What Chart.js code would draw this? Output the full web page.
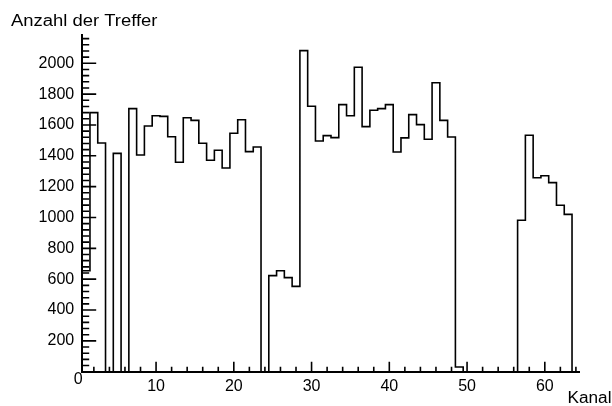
<!DOCTYPE html>
<html><head><meta charset="utf-8">
<script src="https://cdn.jsdelivr.net/npm/chart.js@4/dist/chart.umd.min.js"></script>
<style>html,body{margin:0;padding:0;background:#fff;overflow:hidden}canvas{display:block}</style>
</head><body>
<canvas id="c" width="612" height="406"></canvas>
<script>
// ---- data ----
const binCenters = [1,2,3,4,5,6,7,8,9,10,11,12,13,14,15,16,17,18,19,20,21,22,23,24,25,26,27,28,29,30,31,32,
                    33,34,35,36,37,38,39,40,41,42,43,44,45,46,47,48,49,50,51,52,53,54,55,56,57,58,59,60,61,62,63,64];
const counts = [655,1680,1483,0,1416,0,1706,1405,1593,1660,1656,1524,1358,1647,1630,1481,
                1371,1436,1321,1546,1634,1427,1457,0,623,655,610,553,2082,1721,1496,1531,
                1518,1732,1660,1974,1589,1695,1706,1732,1425,1516,1667,1602,1507,1874,1630,1522,
                30,0,0,0,0,0,0,0,982,1533,1258,1271,1226,1079,1020,0];
const binWidth = 1;
const xTickValues = [10,20,30,40,50,60];
const xTickLabels = ['10','20','30','40','50','60'];
const yTickValues = [0,200,400,600,800,1000,1200,1400,1600,1800,2000];
const yTickLabels = ['0','200','400','600','800','1000','1200','1400','1600','1800','2000'];
const xAxisTitle = 'Kanal';
const yAxisTitle = 'Anzahl der Treffer';
const xMin = 0.5, xMax = 64.5, yMin = 0, yMax = 2186;

// ---- histogram outline points (bin low edges, step) ----
const outline = [{x: binCenters[0] - binWidth/2, y: 0}];
binCenters.forEach((c, i) => outline.push({x: c - binWidth/2, y: counts[i]}));
outline.push({x: binCenters[binCenters.length-1] + binWidth/2, y: 0});

const FONT = '"Liberation Sans", Arial, Helvetica, sans-serif';

const bgPlugin = {
  id: 'bg',
  beforeDraw(chart) {
    const ctx = chart.ctx;
    ctx.save(); ctx.fillStyle = '#fff'; ctx.fillRect(0, 0, chart.width, chart.height); ctx.restore();
  }
};

const decorPlugin = {
  id: 'decor',
  afterDraw(chart) {
    const ctx = chart.ctx, xs = chart.scales.x, ys = chart.scales.y;
    const ax = chart.chartArea.left, ay = chart.chartArea.bottom;
    ctx.save();
    ctx.strokeStyle = '#000'; ctx.lineWidth = 1.6;
    ctx.beginPath();
    for (let v = 0; v <= yMax; v += 40) {
      const py = ys.getPixelForValue(v);
      const len = (v % 200 === 0) ? 14 : 7;
      ctx.moveTo(ax, py); ctx.lineTo(ax + len, py);
    }
    for (let v = 2; v <= xMax; v += 2) {
      const px = xs.getPixelForValue(v);
      const len = (v % 10 === 0) ? 10 : 5;
      ctx.moveTo(px, ay); ctx.lineTo(px, ay - len);
    }
    ctx.stroke();
    ctx.fillStyle = '#000';
    ctx.font = '16px ' + FONT;
    ctx.textAlign = 'center'; ctx.textBaseline = 'middle';
    ctx.fillText(yTickLabels[0], xs.getPixelForValue(0), ys.getPixelForValue(0) + 8);
    // axis titles
    ctx.textBaseline = 'alphabetic';
    ctx.textAlign = 'left';
    let w = ctx.measureText(yAxisTitle).width;
    ctx.save(); ctx.translate(11, 25.5); ctx.scale(146.5 / w, 1); ctx.fillText(yAxisTitle, 0, 0); ctx.restore();
    ctx.textAlign = 'right';
    w = ctx.measureText(xAxisTitle).width;
    ctx.save(); ctx.translate(611.5, 403.3); ctx.scale(44 / w, 1); ctx.fillText(xAxisTitle, 0, 0); ctx.restore();
    ctx.restore();
  }
};

new Chart(document.getElementById('c'), {
  type: 'line',
  data: {
    datasets: [{
      data: outline,
      stepped: 'before',
      borderColor: '#000',
      borderWidth: 1.6,
      pointRadius: 0,
      fill: false,
      tension: 0
    }]
  },
  options: {
    responsive: false,
    devicePixelRatio: 1,
    animation: false,
    parsing: false,
    layout: { padding: { left: 0, top: 34.6, right: 32.2, bottom: 0 } },
    plugins: { legend: { display: false }, tooltip: { enabled: false } },
    scales: {
      x: {
        type: 'linear', min: xMin, max: xMax,
        grid: { display: false, drawTicks: false },
        border: { display: true, color: '#000', width: 2 },
        afterBuildTicks: s => { s.ticks = xTickValues.map(v => ({ value: v })); },
        afterFit: s => { s.height = 406 - 371.7; },
        ticks: {
          color: '#000', font: { family: FONT, size: 16 }, padding: 5, maxRotation: 0, autoSkip: false,
          callback: (v) => xTickLabels[xTickValues.indexOf(v)]
        }
      },
      y: {
        type: 'linear', min: yMin, max: yMax,
        grid: { display: false, drawTicks: false },
        border: { display: true, color: '#000', width: 2 },
        afterBuildTicks: s => { s.ticks = yTickValues.map(v => ({ value: v })); },
        afterFit: s => { s.width = 82.2; },
        ticks: {
          color: '#000', font: { family: FONT, size: 16 }, padding: 8, autoSkip: false,
          callback: (v) => v === 0 ? '' : yTickLabels[yTickValues.indexOf(v)]
        }
      }
    }
  },
  plugins: [bgPlugin, decorPlugin]
});
</script>
</body></html>
